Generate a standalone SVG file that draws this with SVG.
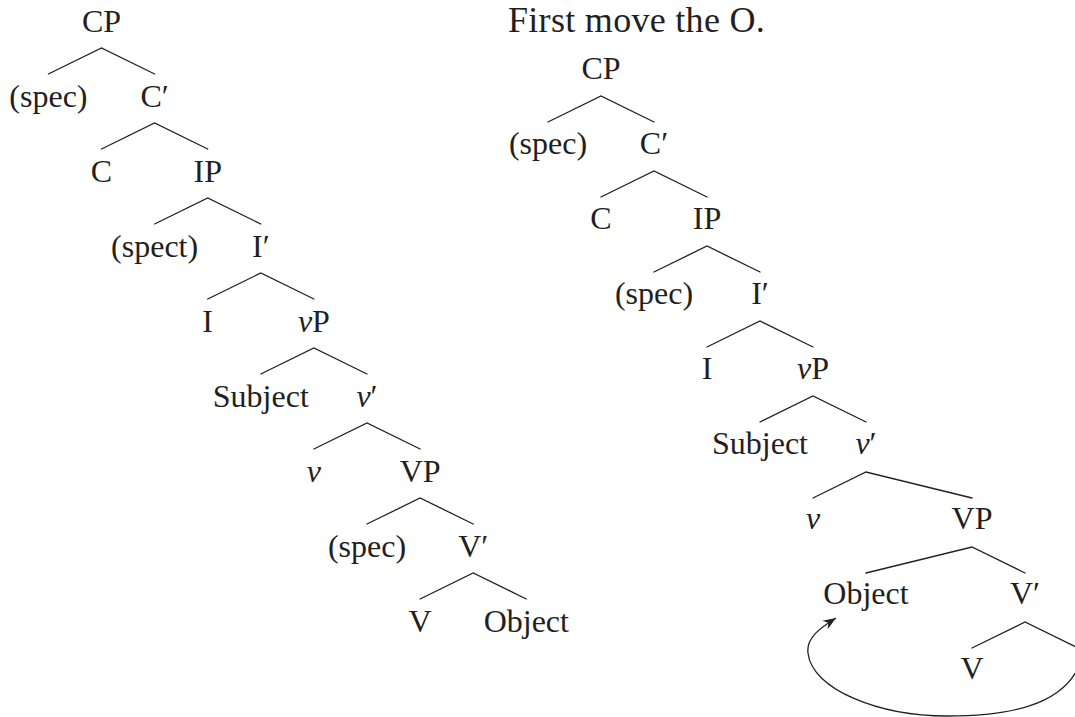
<svg xmlns="http://www.w3.org/2000/svg" width="1075" height="717" viewBox="0 0 1075 717">
  <style>
    text { font-family: "Liberation Serif", "Times New Roman", serif; font-size: 32px; fill: #231f20; text-anchor: middle; }
    .title { font-size: 36px; letter-spacing: 0.3px; text-anchor: start; }
    .it { font-style: italic; }
    .edge { stroke: #231f20; stroke-width: 1.3; fill: none; stroke-linecap: round; }
    .move { stroke: #231f20; stroke-width: 1.3; fill: none; }
  </style>
  <defs>
    <marker id="arrowhead" markerUnits="userSpaceOnUse" markerWidth="16" markerHeight="12" refX="13" refY="5.5" orient="auto">
      <path d="M0,0.5 L13,5.5 L0,10.5 L4,5.5 z" fill="#231f20"/>
    </marker>
  </defs>

  <rect width="1075" height="717" fill="#ffffff"/>

  <!-- Left tree: base structure -->
  <g id="left-tree">
    <g id="l-cp"><text x="101.5" y="32">CP</text></g>
    <g id="l-spec1"><text x="48.4" y="107">(spec)</text></g>
    <g id="l-cbar"><text x="154.6" y="107">C′</text></g>
    <g id="l-c"><text x="101.5" y="182">C</text></g>
    <g id="l-ip"><text x="207.7" y="182">IP</text></g>
    <g id="l-spect"><text x="154.6" y="257">(spect)</text></g>
    <g id="l-ibar"><text x="260.8" y="257">I′</text></g>
    <g id="l-i"><text x="207.7" y="332">I</text></g>
    <g id="l-vp-small"><text x="313.9" y="332"><tspan class="it">v</tspan>P</text></g>
    <g id="l-subject"><text x="260.8" y="407">Subject</text></g>
    <g id="l-vbar-small"><text x="367" y="407"><tspan class="it">v</tspan>′</text></g>
    <g id="l-v-small"><text x="313.9" y="482" class="it">v</text></g>
    <g id="l-vp"><text x="420.1" y="482">VP</text></g>
    <g id="l-spec2"><text x="367" y="557">(spec)</text></g>
    <g id="l-vbar"><text x="473.2" y="557">V′</text></g>
    <g id="l-v"><text x="420.1" y="632">V</text></g>
    <g id="l-object"><text x="526.3" y="632">Object</text></g>
  </g>

  <!-- Title and right tree: object raised to spec of VP -->
  <text class="title" x="508" y="32">First move the O.</text>

  <g id="right-tree">
    <g id="r-cp"><text x="601" y="79">CP</text></g>
    <g id="r-spec1"><text x="548" y="154">(spec)</text></g>
    <g id="r-cbar"><text x="654" y="154">C′</text></g>
    <g id="r-c"><text x="601" y="229">C</text></g>
    <g id="r-ip"><text x="707" y="229">IP</text></g>
    <g id="r-spec2"><text x="654" y="304">(spec)</text></g>
    <g id="r-ibar"><text x="760" y="304">I′</text></g>
    <g id="r-i"><text x="707" y="379">I</text></g>
    <g id="r-vp-small"><text x="813" y="379"><tspan class="it">v</tspan>P</text></g>
    <g id="r-subject"><text x="760" y="454">Subject</text></g>
    <g id="r-vbar-small"><text x="866" y="454"><tspan class="it">v</tspan>′</text></g>
    <g id="r-v-small"><text x="813" y="529" class="it">v</text></g>
    <g id="r-vp"><text x="972" y="529">VP</text></g>
    <g id="r-object"><text x="866" y="604">Object</text></g>
    <g id="r-vbar"><text x="1025" y="604">V′</text></g>
    <g id="r-v"><text x="972" y="679">V</text></g>
  </g>

  <!-- Branches -->
  <g id="connectors">
    <!-- left tree -->
    <path class="edge" d="M48.4,74 L101.5,48 L154.6,74"/>
    <path class="edge" d="M101.5,149 L154.6,123 L207.7,149"/>
    <path class="edge" d="M154.6,224 L207.7,198 L260.8,224"/>
    <path class="edge" d="M207.7,299 L260.8,273 L313.9,299"/>
    <path class="edge" d="M260.8,374 L313.9,348 L367,374"/>
    <path class="edge" d="M313.9,449 L367,423 L420.1,449"/>
    <path class="edge" d="M367,524 L420.1,498 L473.2,524"/>
    <path class="edge" d="M420.1,599 L473.2,573 L526.3,599"/>
    <!-- right tree -->
    <path class="edge" d="M548,122 L601,96 L654,122"/>
    <path class="edge" d="M601,197 L654,171 L707,197"/>
    <path class="edge" d="M654,272 L707,246 L760,272"/>
    <path class="edge" d="M707,347 L760,321 L813,347"/>
    <path class="edge" d="M760,422 L813,396 L866,422"/>
    <path class="edge" d="M813,498 L866,472 L972,498"/>
    <path class="edge" d="M866,573 L972,547 L1025,573"/>
    <path class="edge" d="M972,648 L1025,622 L1078,648"/>
    <!-- movement arrow back up to the object position -->
    <path class="move" marker-end="url(#arrowhead)" d="M1078,668 C1060,705 1010,716 947,716 C880,716 812,690 808,653 C806,638 820,628 836,618"/>
  </g>
</svg>
